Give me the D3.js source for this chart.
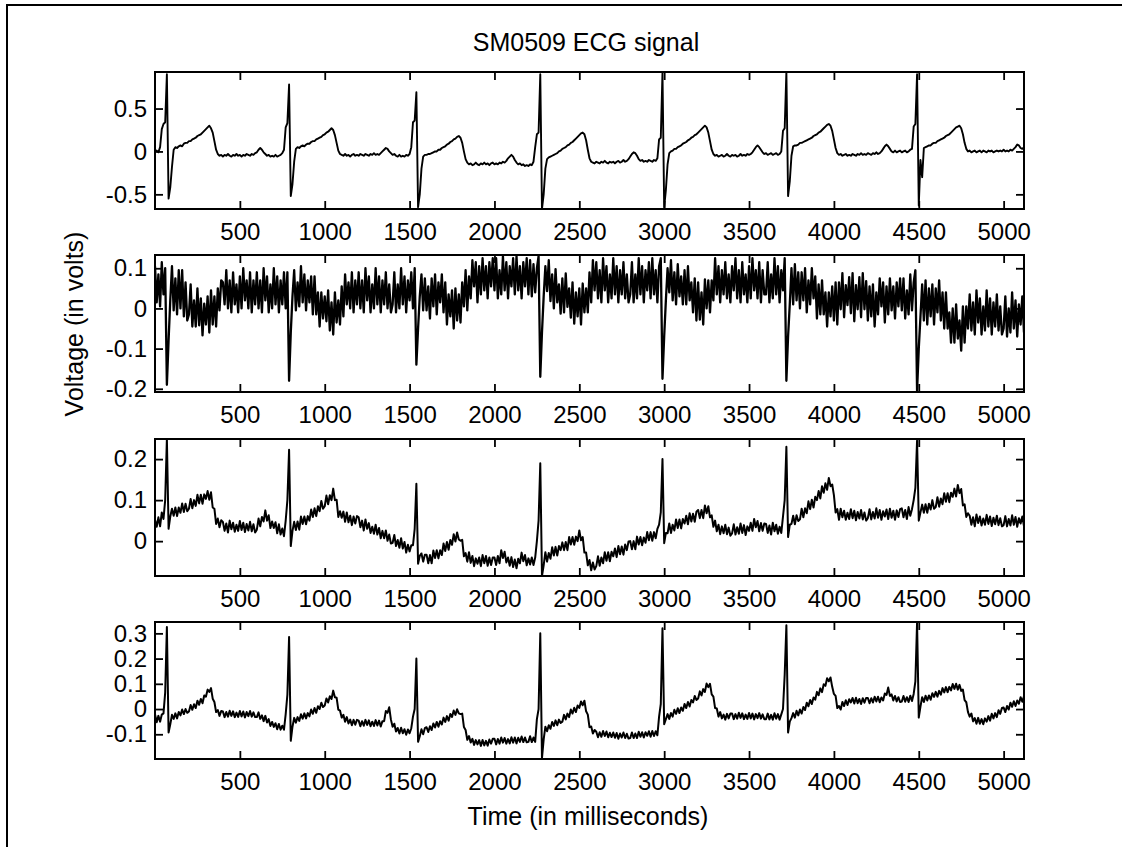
<!DOCTYPE html>
<html>
<head>
<meta charset="utf-8">
<script src="https://cdn.jsdelivr.net/npm/d3@7"></script>
<style>
  html, body { margin: 0; padding: 0; background: #fff; }
  svg text { font-family: "Liberation Sans", Arial, Helvetica, sans-serif; fill: #000; }
</style>
</head>
<body>
<svg id="chart" width="1122" height="847"></svg>
<script>
// ---- chart text ----
const chartTitle = "SM0509 ECG signal";
const xAxisLabel = "Time (in milliseconds)";
const yAxisLabel = "Voltage (in volts)";

// ---- time axis: one sample every 10 ms, 0 .. 5120 ms ----
const sampleStepMs = 10;
const timeDomain = [0, 5120];
const timeTicks = [500, 1000, 1500, 2000, 2500, 3000, 3500, 4000, 4500, 5000];

// ---- lead 1 (volts) ----
const lead1 = [
  0,.01,-.01,.05,.26,.32,.34,.9,-.55,-.42,-.18,.02,.05,.04,.06,.07,.06,.09,.1,.1,
  .12,.12,.14,.15,.16,.18,.19,.2,.22,.24,.26,.28,.3,.27,.22,.12,.02,-.03,-.05,-.04,
  -.06,-.04,-.05,-.03,-.05,-.06,-.04,-.05,-.03,-.05,-.04,-.06,-.04,-.05,-.03,-.04,-.05,-.03,-.04,-.02,
  -.01,.02,.04,.02,-.01,-.03,-.05,-.04,-.06,-.05,-.06,-.04,-.06,-.05,-.04,-.02,.02,.28,.33,.78,
  -.52,-.38,-.12,.03,.05,.04,.06,.07,.06,.08,.09,.09,.11,.12,.12,.14,.15,.16,.17,.19,
  .2,.22,.23,.25,.27,.25,.19,.1,.01,-.03,-.04,-.05,-.03,-.05,-.04,-.06,-.04,-.03,-.05,-.04,
  -.05,-.03,-.04,-.05,-.03,-.04,-.05,-.03,-.04,-.02,-.04,-.03,-.04,-.02,0,.02,.04,.03,0,-.02,
  -.04,-.03,-.05,-.06,-.04,-.06,-.05,-.06,-.04,-.05,-.03,.05,.34,.36,.69,-.65,-.5,-.2,-.06,-.04,
  -.04,-.03,-.03,-.02,-.01,0,0,.02,.02,.04,.05,.06,.08,.09,.11,.12,.14,.15,.17,.18,
  .16,.1,0,-.09,-.13,-.15,-.14,-.16,-.15,-.13,-.15,-.16,-.14,-.15,-.13,-.15,-.14,-.16,-.14,-.13,
  -.15,-.14,-.15,-.13,-.14,-.12,-.13,-.11,-.08,-.06,-.04,-.06,-.1,-.13,-.15,-.14,-.16,-.15,-.17,-.16,
  -.17,-.15,-.16,-.12,.05,.2,.22,.9,-.67,-.5,-.2,-.09,-.07,-.06,-.05,-.04,-.03,-.02,0,.01,
  .03,.04,.05,.07,.08,.1,.11,.13,.15,.17,.19,.21,.22,.2,.13,.02,-.08,-.12,-.13,-.14,
  -.12,-.13,-.14,-.12,-.13,-.11,-.13,-.14,-.12,-.13,-.12,-.14,-.12,-.11,-.13,-.12,-.1,-.12,-.11,-.09,
  -.06,-.03,-.01,-.02,-.05,-.09,-.11,-.1,-.12,-.11,-.12,-.1,-.11,-.12,-.1,-.11,-.08,.14,.16,.92,
  -.65,-.45,-.15,-.02,0,.01,.03,.03,.05,.06,.07,.09,.1,.11,.13,.14,.16,.17,.19,.2,
  .22,.24,.26,.28,.3,.28,.22,.12,.02,-.03,-.05,-.04,-.06,-.05,-.04,-.06,-.05,-.03,-.05,-.06,
  -.04,-.05,-.04,-.06,-.05,-.03,-.05,-.04,-.05,-.03,-.04,-.03,-.01,.02,.05,.07,.05,.02,-.01,-.03,
  -.02,-.04,-.03,-.02,-.04,-.03,-.02,-.04,-.03,0,.24,.27,.93,-.52,-.35,-.05,.06,.07,.07,.08,
  .1,.1,.11,.12,.13,.14,.15,.16,.18,.19,.2,.22,.23,.25,.27,.29,.31,.32,.3,.24,
  .14,.04,-.02,-.04,-.03,-.05,-.04,-.03,-.05,-.04,-.05,-.03,-.04,-.05,-.03,-.04,-.02,-.04,-.03,-.04,
  -.02,-.03,-.04,-.02,-.03,-.01,-.03,-.02,0,.03,.06,.08,.06,.03,0,-.01,.01,-.01,0,.01,
  -.01,0,.01,-.01,0,.02,.03,.29,.32,.9,-.63,-.1,-.3,.04,.05,.06,.07,.07,.09,.1,
  .1,.12,.13,.14,.15,.16,.18,.19,.2,.22,.24,.26,.28,.29,.3,.27,.2,.1,.03,0,
  .01,-.01,0,.01,-.01,0,.01,-.01,.01,0,-.01,.01,0,.01,-.01,0,.01,0,.01,0,
  .02,0,.01,0,.02,.01,.03,.05,.08,.07,.04,.03,.05
];

// ---- lead 2 (volts) ----
const lead2 = [
  .105,.015,.085,.005,.115,.035,.1,-.19,-.08,.02,.105,-.005,.075,-.015,.095,0,.095,-.02,.065,-.03,
  -.015,.06,-.045,.02,-.045,.05,-.042,.025,-.067,.012,-.04,.03,-.06,.045,-.04,.03,-.045,.05,-.005,.07,
  .065,.01,.095,0,.07,-.01,.09,.01,.06,-.01,.08,0,.1,.02,.07,0,.09,-.01,.07,.01,
  .09,0,.07,-.01,.1,.02,.08,-.01,.06,0,.1,.01,.08,-.01,.07,.01,.09,0,.09,-.18,
  -.06,.03,.095,-.005,.065,.005,.105,.015,.085,-.005,.07,.015,.08,-.015,.08,-.015,.04,-.045,.04,-.025,
  .03,-.032,.045,-.055,.015,-.065,.04,-.035,.02,-.04,.055,-.02,.085,.01,.065,0,.09,-.01,.07,.01,
  .09,0,.07,-.01,.1,.02,.08,-.01,.06,0,.1,.01,.08,-.01,.07,.01,.09,0,.06,-.01,
  .01,.09,-.01,.06,0,.1,.01,.08,-.01,.07,.02,.09,0,.1,-.14,-.05,.03,.085,-.005,.075,
  -.005,.055,-.025,.075,.005,.085,-.015,.065,.015,.085,-.01,.065,-.04,.035,-.02,.045,-.05,.05,-.03,.035,
  -.035,.065,.005,.095,-.005,.08,.025,.12,.055,.115,.015,.105,.035,.125,.045,.105,.025,.115,.055,.125,
  .045,.125,.025,.095,.035,.13,.045,.115,.025,.105,.055,.125,.035,.13,.045,.105,.025,.115,.055,.125,
  .035,.12,.03,.11,.04,.1,.13,-.17,-.06,.03,.105,.043,.12,.018,.085,0,.098,.015,.06,-.013,
  .075,-.01,.087,.004,.05,-.023,.065,-.038,.04,-.02,.05,-.04,.062,-.01,.05,-.01,.09,.015,.12,.045,
  .115,.025,.095,.015,.125,.045,.105,.015,.085,.025,.125,.035,.105,.015,.095,.035,.115,.025,.085,.015,
  .035,.115,.015,.085,.025,.125,.035,.105,.015,.095,.045,.115,.025,.125,.035,.095,.015,.105,.125,-.175,
  -.07,.02,.1,.04,.12,.02,.09,.01,.11,.03,.08,.01,.095,.01,.105,.02,.065,-.01,.075,-.03,
  .065,-.028,.04,-.04,.072,0,.07,-.01,.07,.02,.125,.035,.105,.015,.095,.035,.115,.025,.085,.015,
  .105,.045,.125,.025,.095,.015,.115,.035,.085,.015,.105,.025,.125,.045,.095,.025,.115,.015,.095,.035,
  .035,.115,.015,.085,.025,.125,.035,.105,.015,.095,.045,.125,-.18,-.07,.01,.1,.01,.11,.02,.09,
  0,.09,.02,.1,-.01,.07,.01,.1,.025,.08,-.025,.06,-.015,.07,-.015,.04,-.045,.04,-.02,.055,
  -.03,.065,-.04,.065,-.002,.088,-.022,.058,.008,.078,-.012,.088,-.032,.058,-.002,.078,-.022,.088,-.002,.068,
  -.03,.055,-.02,.06,-.045,.04,-.015,.075,.005,.065,-.035,.055,-.015,.075,-.005,.055,-.025,.065,.005,.075,
  -.005,.075,-.025,.045,-.015,.085,-.005,.065,.095,-.205,-.1,-.02,.06,-.03,.07,-.04,.05,-.02,.06,-.04,
  .05,-.01,.07,-.03,.04,-.05,.04,-.05,-.01,-.085,0,-.085,.01,-.075,-.03,-.105,.005,-.085,.005,-.05,
  .035,-.055,.015,-.065,.045,-.035,.025,-.065,.005,-.055,.045,-.045,.025,-.065,.015,-.045,.035,-.055,.005,-.065,
  -.05,.03,-.07,0,-.06,.04,-.05,.02,-.07,.01,-.04,.03,-.06
];

// ---- lead 3 (volts) ----
const lead3 = [
  .052,.035,.058,.036,.07,.054,.1,.249,.03,.06,.079,.062,.082,.061,.082,.069,.092,.071,.091,.073,
  .079,.103,.08,.1,.086,.113,.092,.113,.091,.114,.103,.122,.101,.119,.082,.079,.042,.055,.034,.051,
  .047,.025,.043,.021,.05,.029,.045,.023,.04,.025,.049,.027,.045,.022,.042,.026,.047,.024,.041,.021,
  .028,.055,.036,.059,.048,.075,.05,.063,.032,.048,.032,.046,.019,.041,.016,.031,.012,.05,.1,.223,
  -.012,.025,.047,.027,.048,.028,.06,.042,.06,.041,.061,.05,.077,.059,.08,.061,.085,.073,.098,.079,
  .085,.111,.09,.112,.1,.128,.1,.101,.059,.073,.057,.072,.047,.07,.046,.062,.039,.06,.043,.061,
  .058,.034,.05,.026,.053,.03,.044,.02,.035,.018,.04,.016,.032,.007,.025,.007,.026,.001,.016,-.006,
  -.004,.015,-.012,.003,-.016,.007,-.018,-.002,-.028,-.009,-.025,-.01,-.01,.03,.14,-.055,-.036,-.03,-.05,-.033,
  -.033,-.054,-.034,-.054,-.023,-.041,-.022,-.042,-.022,-.034,-.006,-.024,-.002,-.021,.003,-.009,.017,-.001,.021,.004,
  .001,.003,-.037,-.029,-.05,-.027,-.053,-.036,-.061,-.042,-.055,-.04,-.061,-.034,-.054,-.036,-.06,-.04,-.058,-.04,
  -.04,-.058,-.036,-.054,-.022,-.041,-.026,-.052,-.04,-.06,-.039,-.063,-.045,-.066,-.043,-.054,-.028,-.049,-.034,-.059,
  -.042,-.057,-.04,-.058,-.04,0,.05,.19,-.085,-.059,-.027,-.05,-.029,-.043,-.015,-.035,-.014,-.035,-.012,-.022,
  -.003,-.022,-.002,-.022,.01,-.008,.01,-.009,.011,0,.026,.002,.01,-.028,-.028,-.059,-.046,-.071,-.052,-.069,
  -.061,-.037,-.06,-.04,-.054,-.027,-.048,-.027,-.049,-.026,-.037,-.018,-.039,-.012,-.032,-.013,-.033,-.008,-.022,-.001,
  0,-.02,0,-.02,.011,-.008,.01,-.01,.009,-.004,.022,.002,.022,.001,.022,.007,.03,.04,.07,.2,
  -.005,.02,.019,.043,.02,.04,.026,.053,.032,.053,.031,.054,.043,.062,.041,.068,.048,.067,.047,.072,
  .076,.056,.076,.056,.087,.068,.085,.058,.063,.035,.05,.024,.04,.017,.036,.019,.04,.017,.033,.013,
  .019,.041,.016,.034,.018,.043,.02,.039,.015,.036,.025,.045,.025,.054,.034,.049,.024,.044,.025,.043,
  .042,.02,.038,.016,.045,.024,.04,.018,.035,.02,.06,.1,.23,.01,.04,.042,.062,.041,.063,.049,
  .053,.079,.058,.08,.068,.097,.078,.101,.082,.108,.1,.122,.104,.134,.118,.141,.125,.154,.134,.138,
  .112,.07,.078,.052,.079,.058,.074,.052,.069,.054,.078,.056,.074,.051,.071,.055,.076,.053,.07,.05,
  .056,.078,.053,.071,.055,.08,.057,.076,.052,.073,.06,.077,.054,.079,.057,.074,.052,.075,.059,.078,
  .08,.058,.076,.054,.083,.062,.078,.1,.13,.245,.05,.07,.089,.069,.09,.069,.091,.077,.1,.079,
  .083,.107,.084,.104,.09,.117,.096,.117,.095,.118,.108,.128,.109,.137,.117,.127,.087,.09,.059,.068,
  .062,.04,.058,.036,.065,.044,.06,.038,.055,.04,.064,.042,.06,.037,.057,.041,.062,.039,.056,.036,
  .039,.061,.036,.054,.038,.063,.04,.059,.035,.056,.043,.06,.037
];

// ---- lead 4 (volts) ----
const lead4 = [
  -.02,-.052,-.027,-.05,-.022,-.017,.065,.325,-.093,-.06,-.023,-.039,-.017,-.037,-.012,-.025,-.002,-.02,0,-.015,
  -.01,.016,-.003,.019,.004,.033,.017,.04,.023,.054,.049,.077,.068,.083,.041,.028,-.012,-.004,-.027,-.008,
  -.01,-.032,-.012,-.03,-.007,-.027,-.009,-.032,-.014,-.031,-.008,-.029,-.01,-.033,-.012,-.028,-.008,-.03,-.013,-.032,
  -.032,-.013,-.039,-.025,-.048,-.027,-.053,-.04,-.067,-.051,-.071,-.056,-.08,-.059,-.082,-.066,-.082,-.02,.057,.286,
  -.126,-.07,-.035,-.054,-.032,-.047,-.021,-.038,-.017,-.037,-.016,-.029,-.002,-.019,.004,-.015,.011,0,.025,.008,
  .014,.042,.026,.051,.04,.073,.047,.045,-.002,-.006,-.034,-.023,-.05,-.032,-.057,-.042,-.064,-.043,-.062,-.043,
  -.046,-.068,-.048,-.066,-.043,-.063,-.045,-.068,-.05,-.067,-.044,-.065,-.046,-.069,-.048,-.048,-.008,-.015,.007,-.042,
  -.07,-.058,-.089,-.075,-.097,-.074,-.096,-.08,-.102,-.081,-.096,-.076,-.03,0,.2,-.13,-.108,-.08,-.1,-.076,
  -.072,-.091,-.068,-.083,-.057,-.073,-.051,-.07,-.048,-.061,-.034,-.051,-.028,-.046,-.02,-.031,-.006,-.023,-.001,-.017,
  -.02,-.018,-.071,-.083,-.122,-.107,-.133,-.118,-.142,-.123,-.14,-.123,-.146,-.123,-.144,-.126,-.145,-.121,-.137,-.118,
  -.118,-.14,-.119,-.137,-.113,-.133,-.115,-.137,-.119,-.136,-.112,-.133,-.113,-.136,-.114,-.13,-.109,-.131,-.113,-.132,
  -.13,-.108,-.131,-.113,-.13,-.04,0,.3,-.195,-.12,-.07,-.088,-.064,-.078,-.051,-.067,-.045,-.064,-.042,-.055,
  -.05,-.023,-.041,-.018,-.032,-.002,-.018,.005,-.012,.014,.004,.03,.015,.033,-.009,-.022,-.072,-.069,-.097,-.083,
  -.09,-.112,-.092,-.11,-.087,-.107,-.089,-.112,-.094,-.111,-.093,-.114,-.095,-.118,-.097,-.113,-.093,-.115,-.098,-.117,
  -.115,-.093,-.115,-.097,-.115,-.09,-.11,-.092,-.113,-.092,-.106,-.088,-.11,-.087,-.107,-.088,-.104,-.03,.02,.32,
  -.06,-.04,-.02,-.039,-.016,-.03,-.003,-.019,.003,-.016,.006,-.007,.02,.004,.028,.01,.036,.026,.052,.036,
  .042,.07,.054,.079,.068,.101,.087,.1,.058,.049,.004,.002,-.03,-.012,-.037,-.022,-.042,-.019,-.037,-.018,
  -.018,-.04,-.02,-.038,-.015,-.035,-.017,-.04,-.022,-.039,-.016,-.037,-.018,-.041,-.02,-.036,-.016,-.038,-.021,-.04,
  -.04,-.018,-.041,-.023,-.042,-.017,-.038,-.02,-.042,-.021,0,.136,.332,-.093,-.05,-.036,-.016,-.034,-.007,-.025,
  -.002,-.018,.008,-.004,.025,.011,.036,.02,.046,.037,.068,.055,.082,.067,.098,.092,.122,.11,.125,.088,
  .06,.052,.004,.012,-.002,.028,.012,.035,.016,.039,.026,.044,.022,.045,.023,.04,.02,.043,.025,.044,
  .044,.023,.043,.026,.049,.03,.049,.027,.046,.034,.062,.056,.085,.052,.058,.034,.052,.03,.047,.028,
  .03,.052,.029,.047,.028,.053,.032,.06,.11,.343,-.034,.01,.047,.028,.053,.034,.054,.037,.063,.048,
  .068,.049,.072,.057,.083,.066,.087,.067,.088,.074,.099,.08,.1,.077,.096,.072,.077,.035,.027,-.012,
  -.03,-.018,-.049,-.036,-.058,-.035,-.058,-.04,-.06,-.037,-.05,-.028,-.046,-.019,-.037,-.016,-.032,-.005,-.019,.004,
  .006,-.012,.012,-.002,.025,.009,.031,.012,.034,.021,.047,.029,.05
];

// ---- per-lead vertical ranges and ticks ----
const leadYDomains = [[-0.671, 0.926], [-0.208, 0.133], [-0.085, 0.249], [-0.198, 0.345]];
const leadYTicks = [[-0.5, 0, 0.5], [-0.2, -0.1, 0, 0.1], [0, 0.1, 0.2], [-0.1, 0, 0.1, 0.2, 0.3]];

// ------------------------------------------------------------------
const leads = [lead1, lead2, lead3, lead4];

const expectedSamples = Math.round((timeDomain[1] - timeDomain[0]) / sampleStepMs) + 1;
leads.forEach((s, i) => {
  if (s.length !== expectedSamples) throw new Error("lead " + (i + 1) + " has " + s.length + " samples");
});

const svg = d3.select("#chart");
const plotLeft = 155, plotRight = 1024;
const plotTops = [72, 255, 439, 622];
const plotHeight = 137;
const traceWidths = [1.9, 2.3, 2.0, 2.0];
const tickFont = 24, labelFont = 25;

// outer figure frame (left and top edges)
svg.append("path")
  .attr("d", "M7,847 V5 H1122")
  .attr("fill", "none").attr("stroke", "#000").attr("stroke-width", 2);

const x = d3.scaleLinear().domain(timeDomain).range([plotLeft, plotRight]);

function styleAxis(g) {
  g.select(".domain").remove();
  g.selectAll(".tick line").attr("stroke", "#000").attr("stroke-width", 1.8);
  g.selectAll(".tick text")
    .attr("font-size", tickFont)
    .attr("font-family", '"Liberation Sans", Arial, sans-serif')
    .attr("fill", "#000");
  g.attr("font-family", null).attr("font-size", null);
}

const fmt = d => (d === 0 ? "0" : String(d));

leads.forEach((series, k) => {
  const top = plotTops[k];
  const y = d3.scaleLinear().domain(leadYDomains[k]).range([top + plotHeight, top]);
  const panel = svg.append("g");

  const clipId = "clip" + k;
  svg.append("clipPath").attr("id", clipId)
    .append("rect").attr("x", plotLeft).attr("y", top)
    .attr("width", plotRight - plotLeft).attr("height", plotHeight);

  const line = d3.line()
    .x((d, i) => x(timeDomain[0] + i * sampleStepMs))
    .y(d => y(d));

  panel.append("path")
    .datum(series)
    .attr("clip-path", "url(#" + clipId + ")")
    .attr("fill", "none")
    .attr("stroke", "#000")
    .attr("stroke-width", traceWidths[k])
    .attr("stroke-linejoin", "round")
    .attr("d", line);

  // bottom axis with labels, ticks pointing inward
  panel.append("g")
    .attr("transform", `translate(0,${top + plotHeight})`)
    .call(d3.axisBottom(x).tickValues(timeTicks).tickSize(-8).tickPadding(14).tickFormat(d3.format("d")))
    .call(styleAxis);
  // mirrored top ticks
  panel.append("g")
    .attr("transform", `translate(0,${top})`)
    .call(d3.axisTop(x).tickValues(timeTicks).tickSize(-8).tickFormat(""))
    .call(styleAxis);
  // left axis with labels
  panel.append("g")
    .attr("transform", `translate(${plotLeft},0)`)
    .call(d3.axisLeft(y).tickValues(leadYTicks[k]).tickSize(-8).tickPadding(8).tickFormat(fmt))
    .call(styleAxis);
  // mirrored right ticks
  panel.append("g")
    .attr("transform", `translate(${plotRight},0)`)
    .call(d3.axisRight(y).tickValues(leadYTicks[k]).tickSize(-8).tickFormat(""))
    .call(styleAxis);

  // axes box
  panel.append("rect")
    .attr("x", plotLeft).attr("y", top)
    .attr("width", plotRight - plotLeft).attr("height", plotHeight)
    .attr("fill", "none").attr("stroke", "#000").attr("stroke-width", 2);
});

// title and axis labels
svg.append("text")
  .attr("x", 586).attr("y", 51)
  .attr("text-anchor", "middle").attr("font-size", labelFont)
  .text(chartTitle);

svg.append("text")
  .attr("x", 588).attr("y", 825)
  .attr("text-anchor", "middle").attr("font-size", labelFont)
  .text(xAxisLabel);

svg.append("text")
  .attr("transform", `translate(83,324) rotate(-90)`)
  .attr("text-anchor", "middle").attr("font-size", labelFont)
  .text(yAxisLabel);
</script>
</body>
</html>
